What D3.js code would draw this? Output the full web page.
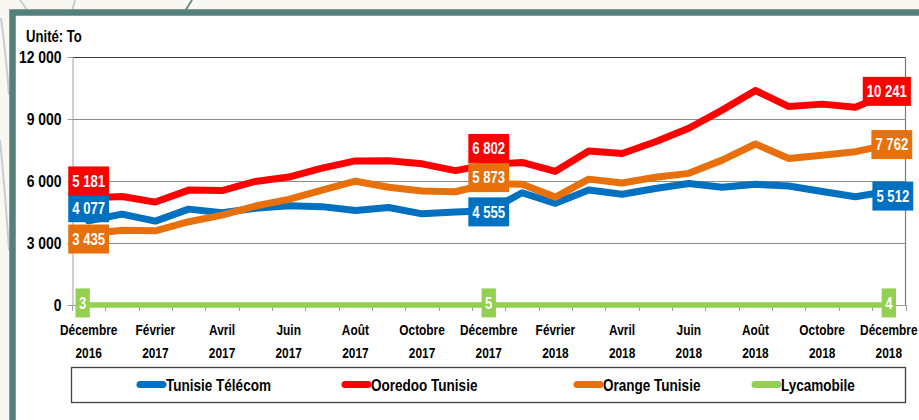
<!DOCTYPE html>
<html><head><meta charset="utf-8">
<script src="https://cdn.jsdelivr.net/npm/d3@7"></script>
<style>
html,body{margin:0;padding:0;background:#f8f7f2;}
svg{display:block;}
text{font-family:"Liberation Sans",Arial,sans-serif;font-weight:bold;}
</style></head>
<body>
<svg id="chart" width="919" height="420"></svg>
<script>
const categories = ["Décembre 2016","Janvier 2017","Février 2017","Mars 2017","Avril 2017","Mai 2017","Juin 2017","Juillet 2017","Août 2017","Septembre 2017","Octobre 2017","Novembre 2017","Décembre 2017","Janvier 2018","Février 2018","Mars 2018","Avril 2018","Mai 2018","Juin 2018","Juillet 2018","Août 2018","Septembre 2018","Octobre 2018","Novembre 2018","Décembre 2018"];
const tunisieTelecom = [4077,4400,4060,4640,4460,4680,4800,4760,4570,4720,4410,4500,4555,5430,4920,5560,5360,5640,5880,5700,5840,5760,5490,5240,5512];
const ooredoo = [5181,5250,4980,5560,5540,5980,6190,6620,6970,6980,6830,6500,6802,6900,6470,7450,7330,7900,8550,9430,10380,9600,9720,9570,10241];
const orange = [3435,3620,3590,4030,4350,4790,5110,5560,5990,5700,5520,5480,5873,5840,5220,6090,5900,6180,6370,7010,7790,7090,7250,7420,7762];
const lycamobile = [3,3,3,3,4,4,4,4,4,4,5,5,5,5,5,5,5,5,5,5,4,4,4,4,4];
const seriesNames = ["Tunisie Télécom","Ooredoo Tunisie","Orange Tunisie","Lycamobile"];
const yTicks = [0,3000,6000,9000,12000];
const labelledIdx = [0,12,24];
const unitLabel = "Unité: To";

const colors = ["#0070c0","#ff0000","#e8700a","#92d050"];
const seriesData = [tunisieTelecom, ooredoo, orange, lycamobile];
// label placement offsets (style): [series][labelIndex] -> [dx,dy]
const labelOffsets = [
  [[0,-13],[0,1],[4,5]],
  [[0,-17],[0,-16],[-2,-2]],
  [[0,5],[0,-6],[3,0]],
  [[-6,-2],[0,-2],[0,-2]]
];
const NARROW = 0.82;
function narrow(sel){
  sel.each(function(){
    const t = d3.select(this);
    const x0 = +t.attr("x") || 0, y0 = +t.attr("y") || 0;
    t.attr("x",0).attr("y",0).attr("transform",`translate(${x0},${y0}) scale(${NARROW},1)`);
  });
}

const svg = d3.select("#chart");

// background decorative lines
const deco = svg.append("g").attr("fill","none");
deco.append("path").attr("d","M20,0 L28,11").attr("stroke","#c4d0cd").attr("stroke-width",2);
deco.append("path").attr("d","M75,0 L72,11").attr("stroke","#c4d0cd").attr("stroke-width",2);
deco.append("path").attr("d","M192,0 L185,11").attr("stroke","#6f8f8b").attr("stroke-width",2);
deco.append("path").attr("d","M1,18 Q6,55 9,95").attr("stroke","#c4d0cd").attr("stroke-width",2);
deco.append("path").attr("d","M0,140 Q5,190 9,250").attr("stroke","#c4d0cd").attr("stroke-width",2);

// frame
svg.append("rect").attr("x",12.5).attr("y",12.5).attr("width",940).attr("height",440)
  .attr("fill","#ffffff").attr("stroke","#547f7a").attr("stroke-width",6.5);

const x = d3.scaleBand().domain(categories).range([72,905.5]);
const y = d3.scaleLinear().domain([0,12000]).range([305,57]);
const cx = d => x(d) + x.bandwidth()/2;

const locale = d3.formatLocale({decimal:",",thousands:" ",grouping:[3],currency:["",""]});
const fmt = locale.format(",d");

// gridlines
svg.append("g").selectAll("line").data(yTicks.filter(v=>v>0 && v<12000)).join("line")
  .attr("x1",72).attr("x2",905.5).attr("y1",d=>Math.round(y(d))+0.5).attr("y2",d=>Math.round(y(d))+0.5)
  .attr("stroke","#8c8c8c").attr("stroke-width",1);
// plot border top & right
svg.append("line").attr("x1",72).attr("x2",906).attr("y1",y(12000)+0.5).attr("y2",y(12000)+0.5).attr("stroke","#3a3a3a").attr("stroke-width",1.2);
svg.append("line").attr("x1",905.5).attr("x2",905.5).attr("y1",y(12000)).attr("y2",y(0)).attr("stroke","#7a7a7a").attr("stroke-width",1.2);

// y axis
const yAxis = svg.append("g").attr("transform","translate(72.5,0)")
  .call(d3.axisLeft(y).tickValues(yTicks).tickSize(5).tickPadding(6).tickFormat(fmt));
yAxis.select(".domain").attr("stroke","#a0a0a0");
yAxis.selectAll(".tick line").attr("stroke","#a0a0a0");
yAxis.selectAll(".tick text").attr("font-size","17px").attr("fill","#000").attr("font-family",null).call(narrow);

// x axis
svg.append("line").attr("x1",72).attr("x2",906).attr("y1",305.5).attr("y2",305.5).attr("stroke","#a0a0a0");
const edges = categories.map(d=>x(d)).concat([x.range()[1]]);
svg.append("g").selectAll("line").data(edges).join("line")
  .attr("x1",d=>Math.round(d)+0.5).attr("x2",d=>Math.round(d)+0.5).attr("y1",305).attr("y2",311)
  .attr("stroke","#a0a0a0");
const tickCats = categories.filter((d,i)=>i%2===0);
const xg = svg.append("g");
xg.selectAll("text.m").data(tickCats).join("text").attr("class","m")
  .attr("x",d=>cx(d)).attr("y",335).attr("text-anchor","middle").attr("font-size","14.5px").attr("fill","#000")
  .text(d=>d.split(" ")[0]).call(narrow);
xg.selectAll("text.yr").data(tickCats).join("text").attr("class","yr")
  .attr("x",d=>cx(d)).attr("y",358).attr("text-anchor","middle").attr("font-size","14.5px").attr("fill","#000")
  .text(d=>d.split(" ")[1]).call(narrow);

// unit label
svg.append("text").attr("x",26).attr("y",42).attr("font-size","16px").attr("fill","#000").text(unitLabel).call(narrow);

// lines
const line = d3.line().x((d,i)=>cx(categories[i])).y(d=>y(d));
seriesData.forEach((s,k)=>{
  svg.append("path").datum(s).attr("d",line).attr("fill","none")
    .attr("stroke",colors[k]).attr("stroke-width",k===3?5.5:7)
    .attr("stroke-linejoin","round").attr("stroke-linecap","round");
});

// data labels
seriesData.forEach((s,k)=>{
  labelledIdx.forEach((i,j)=>{
    const off = labelOffsets[k][j];
    const px = cx(categories[i]) + off[0], py = y(s[i]) + off[1];
    const g = svg.append("g");
    const r = g.append("rect").attr("fill",colors[k]);
    const t = g.append("text").attr("x",px).attr("y",py).attr("dy","0.36em")
      .attr("text-anchor","middle").attr("font-size","16px").attr("fill","#fff").text(fmt(s[i]));
    const w = t.node().getComputedTextLength() * NARROW;
    t.call(narrow);
    const pad = k===3?3.5:4;
    r.attr("x",px-w/2-pad).attr("y",py-14.5).attr("width",w+2*pad).attr("height",29);
  });
});

// legend
svg.append("rect").attr("x",71.5).attr("y",367.5).attr("width",834).attr("height",35)
  .attr("fill","#fff").attr("stroke","#404040").attr("stroke-width",1.3);
const legendX = [137,342,574,752];
seriesNames.forEach((n,k)=>{
  svg.append("line").attr("x1",legendX[k]+3).attr("x2",legendX[k]+26).attr("y1",384.5).attr("y2",384.5)
    .attr("stroke",colors[k]).attr("stroke-width",7).attr("stroke-linecap","round");
  svg.append("text").attr("x",legendX[k]+29).attr("y",390.5).attr("font-size","16.5px").attr("fill","#000").text(n).call(narrow);
});
</script>
</body></html>
